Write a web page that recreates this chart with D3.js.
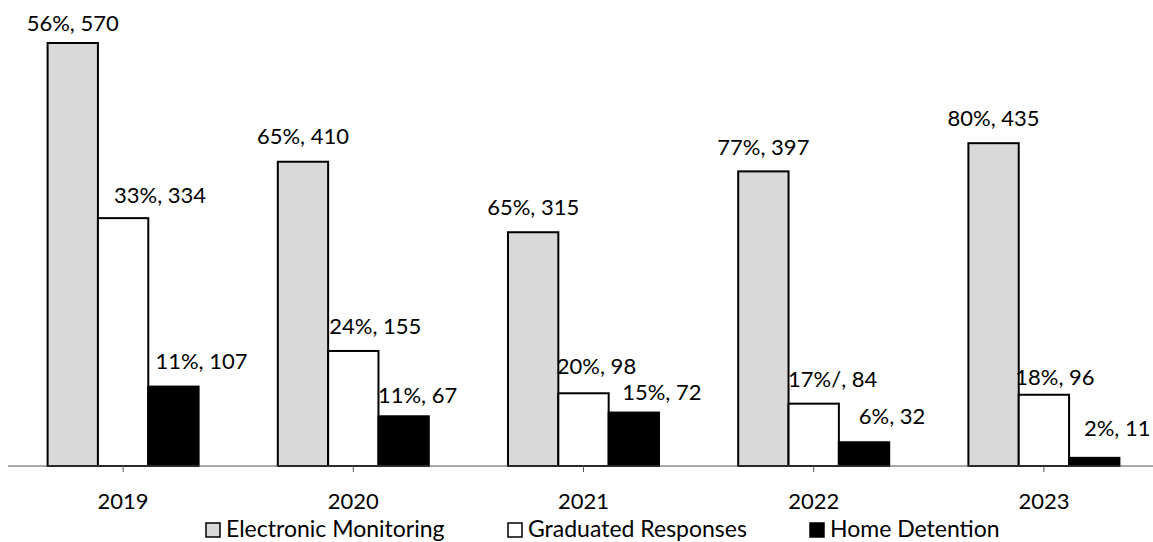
<!DOCTYPE html>
<html>
<head>
<meta charset="utf-8">
<script src="https://cdn.jsdelivr.net/npm/d3@7"></script>
<style>
  body { margin: 0; background: #fff; }
  text { font-family: Lato, "Open Sans", sans-serif; fill: #000; }
</style>
</head>
<body>
<div id="chart"></div>
<script>
// frame constants
const FRAME_WIDTH = 1153;
const FRAME_HEIGHT = 542;
const BASE_Y = 466;
const FONT_SIZE = "22px";

// data
const YEARS = ["2019", "2020", "2021", "2022", "2023"];
const SERIES = ["Electronic Monitoring", "Graduated Responses", "Home Detention"];
const EM_VALUES = [570, 410, 315, 397, 435];
const GR_VALUES = [334, 155, 98, 84, 96];
const HD_VALUES = [107, 67, 72, 32, 11];
const EM_LABELS = ["56%, 570", "65%, 410", "65%, 315", "77%, 397", "80%, 435"];
const GR_LABELS = ["33%, 334", "24%, 155", "20%, 98", "17%/, 84", "18%, 96"];
const HD_LABELS = ["11%, 107", "11%, 67", "15%, 72", "6%, 32", "2%, 11"];
const FILLS = ["#d9d9d9", "#ffffff", "#000000"];

// label nudges (the labels were dragged by hand in the original)
const LABEL_DX = [[0, 0, 0, 0, 0], [37, 22, 13, 19, 11], [28, 14, 28, 28, 23]];
const LABEL_GAP = [[12, 18, 17, 16, 17], [15, 17, 19, 17, 10], [18, 13, 13, 18, 22]];

const VALUES = [EM_VALUES, GR_VALUES, HD_VALUES];
const LABELS = [EM_LABELS, GR_LABELS, HD_LABELS];

const svg = d3.select("#chart")
  .append("svg")
    .attr("width", FRAME_WIDTH)
    .attr("height", FRAME_HEIGHT);

// scales
const X = d3.scaleBand()
  .domain(YEARS)
  .range([8, 1159]);

const X_INNER = d3.scaleBand()
  .domain(SERIES)
  .range([0, X.bandwidth() * 0.656]);

const Y = d3.scaleLinear()
  .domain([0, 600])
  .range([BASE_Y, BASE_Y - 600 * (423 / 570)]);

const groupOffset = (X.bandwidth() - X_INNER.range()[1]) / 2;

// flatten into bar records
const bars = [];
SERIES.forEach((s, si) => {
  YEARS.forEach((yr, yi) => {
    bars.push({series: s, si: si, yi: yi, year: yr, value: VALUES[si][yi], label: LABELS[si][yi]});
  });
});

const barX = d => X(d.year) + groupOffset + X_INNER(d.series);

// bars
svg.selectAll("rect.bar")
  .data(bars)
  .enter()
  .append("rect")
    .attr("class", "bar")
    .attr("x", barX)
    .attr("y", d => Y(d.value))
    .attr("width", X_INNER.bandwidth())
    .attr("height", d => Y(0) - Y(d.value))
    .attr("fill", d => FILLS[d.si])
    .attr("stroke", "#000")
    .attr("stroke-width", 2);

// value labels
svg.selectAll("text.lbl")
  .data(bars)
  .enter()
  .append("text")
    .attr("class", "lbl")
    .attr("x", d => barX(d) + X_INNER.bandwidth() / 2 + LABEL_DX[d.si][d.yi])
    .attr("y", d => Y(d.value) - LABEL_GAP[d.si][d.yi])
    .attr("text-anchor", "middle")
    .attr("font-size", FONT_SIZE)
    .text(d => d.label);

// x axis
const axis = svg.append("g")
  .attr("transform", "translate(0," + BASE_Y + ")")
  .call(d3.axisBottom(X).tickSize(6).tickPadding(21));
axis.select(".domain").attr("d", "M8,0H1153").attr("stroke", "#555");
axis.selectAll(".tick line").attr("stroke", "#555");
axis.selectAll(".tick text")
  .attr("font-family", "Lato, sans-serif")
  .attr("font-size", FONT_SIZE)
  .attr("fill", "#000");

// legend
const LEGEND_X = [206, 508, 810];
const legend = svg.selectAll("g.leg")
  .data(SERIES)
  .enter()
  .append("g")
    .attr("class", "leg")
    .attr("transform", (d, i) => "translate(" + LEGEND_X[i] + ",523)");
legend.append("rect")
  .attr("width", 14)
  .attr("height", 14)
  .attr("fill", (d, i) => FILLS[i])
  .attr("stroke", "#000")
  .attr("stroke-width", 1.5);
legend.append("text")
  .attr("x", 20)
  .attr("y", 14)
  .attr("font-size", "23px")
  .text(d => d);
</script>
</body>
</html>
